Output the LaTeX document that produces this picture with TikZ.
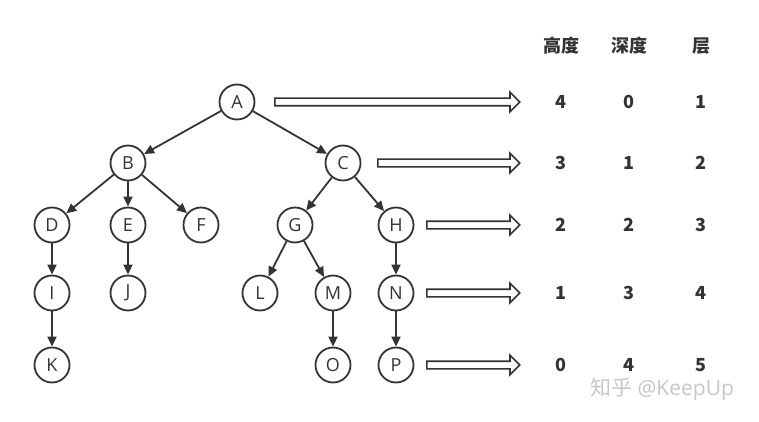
\documentclass[tikz,border=0pt]{standalone}
\usepackage{fontspec}
\setmainfont{Open Sans}
\newfontfamily\cjk{Noto Sans CJK SC}
\usetikzlibrary{arrows.meta,shapes.arrows}
\definecolor{ink}{HTML}{333333}
\tikzset{
  vertex/.style = {circle, draw = ink, line width = 1.8pt, minimum size = 35pt, inner sep = 0pt, text = ink, font = \fontsize{18}{18}\selectfont},
  edge/.style = {->, draw = ink, line width = 1.8pt},
  levelarrow/.style = {single arrow, draw = ink, line width = 1.6pt, inner sep = 3pt, single arrow head extend = 6pt, single arrow tip angle = 90, anchor = west, minimum height = #1},
  cell/.style = {text = ink, font = \cjk\bfseries\fontsize{18}{18}\selectfont}
}

\begin{document}
\begin{tikzpicture}[x = 1pt, y = -1pt, >={Triangle[length=10pt, width=9pt]}]
    \useasboundingbox (0,0) rectangle (759,422);
    % tree
    \node[vertex] (A) at (237,102) {A};
    \node[vertex] (B) at (128,163) {B};
    \node[vertex] (C) at (343,163) {C};
    \node[vertex] (D) at (52,225) {D};
    \node[vertex] (E) at (128,225) {E};
    \node[vertex] (F) at (201,225) {F};
    \node[vertex] (G) at (295,225) {G};
    \node[vertex] (H) at (396,225) {H};
    \node[vertex] (I) at (52,293) {I};
    \node[vertex] (J) at (128,293) {J};
    \node[vertex] (L) at (260,293) {L};
    \node[vertex] (M) at (333,293) {M};
    \node[vertex] (N) at (396,293) {N};
    \node[vertex] (K) at (52,365) {K};
    \node[vertex] (O) at (333,365) {O};
    \node[vertex] (P) at (396,365) {P};
    \foreach \u/\v in {A/B, A/C, B/D, B/E, B/F, C/G, C/H, D/I, E/J, G/L, G/M, H/N, I/K, M/O, N/P}
        \draw[edge] (\u) -- (\v);
    % level arrows
    \node[levelarrow = 245pt] (r1) at (274,102) {};
    \node[levelarrow = 142pt] (r2) at (377,163) {};
    \node[levelarrow = 93pt] (r3) at (426,225) {};
    \node[levelarrow = 93pt] (r4) at (426,293) {};
    \node[levelarrow = 93pt] (r5) at (426,365) {};
    % table
    \node[cell] (hh) at (561,46) {高度};
    \node[cell] (hd) at (629,46) {深度};
    \node[cell] (hl) at (701,46) {层};
    \foreach \y/\h/\d/\l [count = \i] in {102/4/0/1, 163/3/1/2, 225/2/2/3, 293/1/3/4, 365/0/4/5} {
        \node[cell] (h\i) at (561,\y) {\h};
        \node[cell] (d\i) at (629,\y) {\d};
        \node[cell] (l\i) at (701,\y) {\l};
    }
    \node[text = black!22, font = \fontsize{21}{21}\selectfont] (mark) at (662,389) {{\cjk 知乎} @KeepUp};
\end{tikzpicture}
\end{document}
